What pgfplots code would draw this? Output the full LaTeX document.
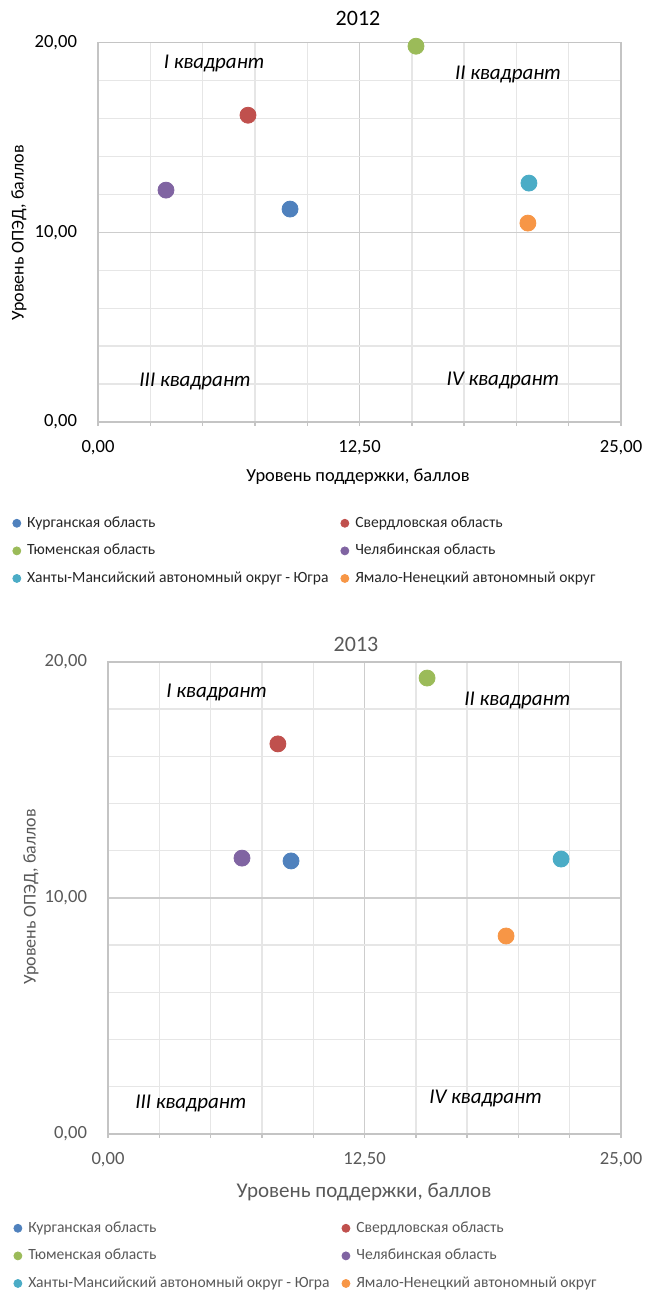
\documentclass[border=0pt]{standalone}
\usepackage{fontspec}
\setmainfont{Carlito}
\usepackage{pgfplots}
\pgfplotsset{compat=1.18}

\definecolor{kurgan}{HTML}{4F81BD}
\definecolor{sverd}{HTML}{C0504D}
\definecolor{tyumen}{HTML}{9BBB59}
\definecolor{chel}{HTML}{8064A2}
\definecolor{hmao}{HTML}{4BACC6}
\definecolor{yanao}{HTML}{F79646}
\definecolor{txtgray}{HTML}{595959}
\definecolor{gridlt}{HTML}{E6E6E6}
\definecolor{gridmj}{HTML}{CDCDCD}
\definecolor{axisc}{HTML}{C4C4C4}

\pgfplotsset{
  quad/.style={
    scale only axis, anchor=south west,
    xmin=0, xmax=25, ymin=0, ymax=20,
    xtick={0,12.5,25}, ytick={0,10,20},
    minor xtick={2.5,5,7.5,10,15,17.5,20,22.5},
    minor ytick={2,4,6,8,12,14,16,18},
    grid=both,
    major grid style={draw=gridmj, line width=0.7pt},
    minor grid style={draw=gridlt, line width=0.7pt},
    axis line style={draw=axisc, line width=0.7pt},
    xtick pos=bottom, ytick pos=left,
    tick align=outside, major tick length=2pt, minor tick length=2pt,
    xtick style={draw=axisc, line width=0.7pt},
    ytick style={draw=none},
    /pgf/number format/fixed, /pgf/number format/fixed zerofill,
    /pgf/number format/precision=2, /pgf/number format/use comma,
    /pgf/number format/assume math mode=true,
    ticklabel style={font=\fontsize{9.3}{11}\selectfont},
    yticklabel style={xshift=-5pt},
    xticklabel style={yshift=-3.5pt},
    legend columns=2,
    legend cell align=left,
    legend image code/.code={\fill (0.25em,0pt) circle (2pt);},
    legend style={draw=none, fill=none, inner sep=0pt, anchor=north west,
      font=\fontsize{7.8}{9.4}\selectfont, row sep=3pt, column sep=1pt,
      /tikz/column 2/.style={column sep=4pt}},
  },
  pt/.style={only marks, mark=*, mark size=4pt},
}

\newcommand{\quadlabels}[8]{%
  \node[font=\itshape\fontsize{10.5}{12}\selectfont] at (axis cs:#1,#2) {I квадрант};
  \node[font=\itshape\fontsize{10.5}{12}\selectfont] at (axis cs:#3,#4) {II квадрант};
  \node[font=\itshape\fontsize{10.5}{12}\selectfont] at (axis cs:#5,#6) {III квадрант};
  \node[font=\itshape\fontsize{10.5}{12}\selectfont] at (axis cs:#7,#8) {IV квадрант};
}

\begin{document}
\begin{tikzpicture}
\path[use as bounding box] (0,0) rectangle (322pt,648pt);

% ---- 2012 ----
\begin{axis}[quad, at={(49pt,437pt)}, width=261.5pt, height=189.6pt,
  legend style={at={(-0.1644,-0.2375)}, text=black!85}]
\addplot[pt, color=kurgan] coordinates {(9.18,11.23)};
\addplot[pt, color=sverd]  coordinates {(7.17,16.18)};
\addplot[pt, color=tyumen] coordinates {(15.20,19.82)};
\addplot[pt, color=chel]   coordinates {(3.25,12.23)};
\addplot[pt, color=hmao]   coordinates {(20.60,12.60)};
\addplot[pt, color=yanao]  coordinates {(20.55,10.49)};
\legend{Курганская область, Свердловская область, Тюменская область,
  Челябинская область, Ханты-Мансийский автономный округ - Югра,
  Ямало-Ненецкий автономный округ}
\quadlabels{5.55}{18.93}{19.6}{18.35}{4.64}{2.16}{19.36}{2.2}
\end{axis}
\node[font=\fontsize{11}{13}\selectfont] at (179pt,639pt) {2012};
\node[font=\fontsize{9.2}{11}\selectfont] at (179pt,409.5pt) {Уровень поддержки, баллов};
\node[font=\fontsize{9}{11}\selectfont, rotate=90] at (9.5pt,531.5pt) {Уровень ОПЭД, баллов};

% ---- 2013 ----
\begin{axis}[quad, at={(54pt,81pt)}, width=256.5pt, height=236pt,
  ticklabel style={text=txtgray},
  legend style={at={(-0.185,-0.176)}, text=txtgray}]
\addplot[pt, color=kurgan] coordinates {(8.92,11.57)};
\addplot[pt, color=sverd]  coordinates {(8.28,16.53)};
\addplot[pt, color=tyumen] coordinates {(15.55,19.32)};
\addplot[pt, color=chel]   coordinates {(6.53,11.69)};
\addplot[pt, color=hmao]   coordinates {(22.08,11.65)};
\addplot[pt, color=yanao]  coordinates {(19.40,8.39)};
\legend{Курганская область, Свердловская область, Тюменская область,
  Челябинская область, Ханты-Мансийский автономный округ - Югра,
  Ямало-Ненецкий автономный округ}
\quadlabels{5.3}{18.7}{19.95}{18.35}{4.04}{1.31}{18.4}{1.5}
\end{axis}
\node[font=\fontsize{11}{13}\selectfont, text=txtgray] at (178pt,326pt) {2013};
\node[font=\fontsize{10.5}{12}\selectfont, text=txtgray] at (182pt,52pt) {Уровень поддержки, баллов};
\node[font=\fontsize{9}{11}\selectfont, text=txtgray, rotate=90] at (15.5pt,199.5pt) {Уровень ОПЭД, баллов};
\end{tikzpicture}
\end{document}
